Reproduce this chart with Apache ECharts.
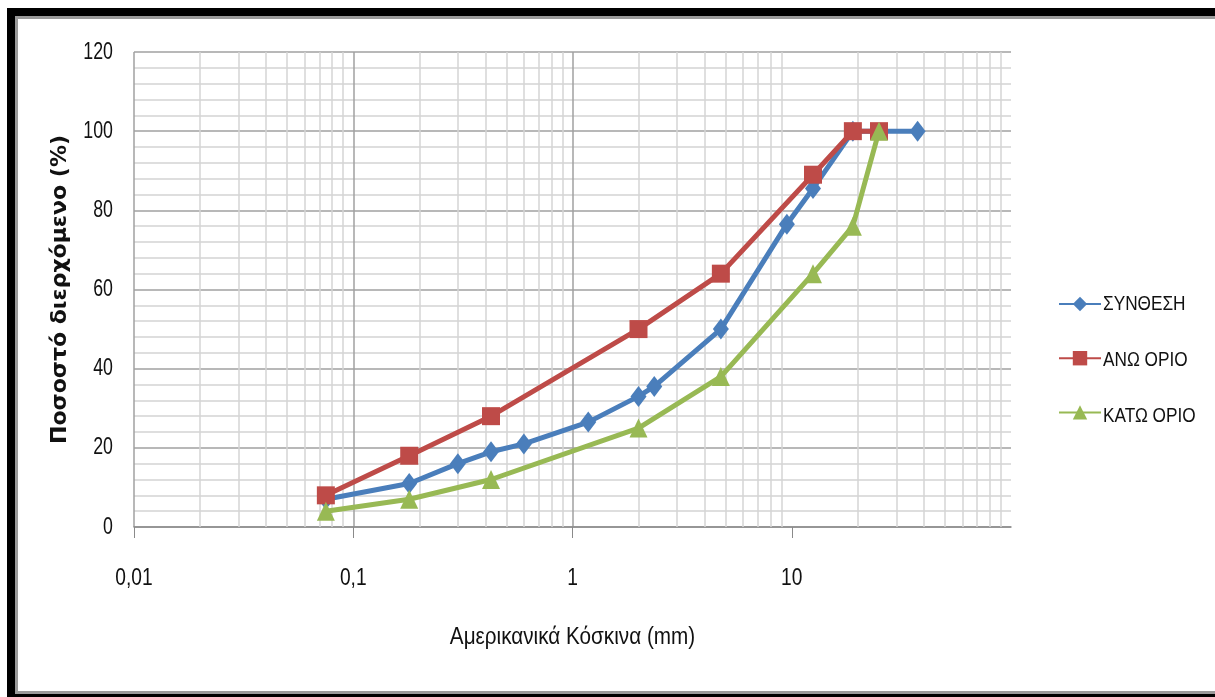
<!DOCTYPE html>
<html>
<head>
<meta charset="utf-8">
<title>Κοκκομετρική καμπύλη</title>
<script src="https://cdn.jsdelivr.net/npm/echarts@6/dist/echarts.min.js"></script>
<style>
  html, body { margin: 0; padding: 0; background: #ffffff; }
  #chart { width: 1215px; height: 697px; }
</style>
</head>
<body>
<div id="chart"></div>
<script>
// Sieve openings (mm) and percent passing for each curve
const sievesMix = [0.075, 0.18, 0.3, 0.425, 0.6, 1.18, 2, 2.36, 4.75, 9.5, 12.5, 19, 37.5];
const passMix   = [7, 11, 16, 19, 21, 26.5, 33, 35.5, 50, 76.5, 85.5, 100, 100];

const sievesLimits = [0.075, 0.18, 0.425, 2, 4.75, 12.5, 19, 25];
const passUpper    = [8, 18, 28, 50, 64, 89, 100, 100];
const passLower    = [4, 7, 12, 25, 38, 64, 76, 100];

const seriesNames = ['ΣΥΝΘΕΣΗ', 'ΑΝΩ ΟΡΙΟ', 'ΚΑΤΩ ΟΡΙΟ'];

// Tick labels
const xTicks = [0.01, 0.1, 1, 10];
const xTickLabels = ['0,01', '0,1', '1', '10'];
const yTicks = [0, 20, 40, 60, 80, 100, 120];

const xTitle = 'Αμερικανικά Κόσκινα (mm)';
const yTitle = 'Ποσοστό διερχόμενο (%)';

// Intermediate log grid lines (2..9 within each decade)
const minorGridValues = [];
[0.01, 0.1, 1, 10].forEach(function (d) {
  for (let k = 2; k <= 9; k++) minorGridValues.push(+(d * k).toPrecision(3));
});

const sans = '"Liberation Sans", Arial, sans-serif';

// Legend layout
const legendTop = 290;
const legendItemH = 18;
const legendGap = 38;
const legendLeft = 1053;
const legendIconW = 42;

function pairs(xs, ys) { return xs.map(function (x, i) { return [x, ys[i]]; }); }

const chart = echarts.init(document.getElementById('chart'), null, { renderer: 'canvas' });

chart.setOption({
  backgroundColor: '#ffffff',
  animation: false,
  grid: { left: 134, right: 204, top: 52, bottom: 170, containLabel: false },
  legend: {
    orient: 'vertical',
    left: legendLeft,
    top: legendTop,
    itemWidth: legendIconW,
    itemHeight: legendItemH,
    itemGap: legendGap,
    formatter: function () { return ''; },
    textStyle: { fontFamily: sans, fontSize: 12, color: '#111' },
    data: seriesNames
  },
  xAxis: {
    type: 'log',
    logBase: 10,
    min: 0.01,
    max: 100,
    splitNumber: 4,
    axisLine: { show: true, lineStyle: { color: '#8a8a8a', width: 1.5 } },
    axisTick: { show: true, length: 11, inside: false, customValues: xTicks, lineStyle: { color: '#8a8a8a', width: 1 } },
    axisLabel: { show: false },
    splitLine: {
      show: true,
      showMaxLine: false,
      lineStyle: { color: '#a0a0a0', width: 1.5 }
    }
  },
  yAxis: {
    type: 'value',
    min: 0,
    max: 120,
    interval: 20,
    name: yTitle,
    nameLocation: 'middle',
    nameGap: 63,
    nameTextStyle: { fontFamily: '"DejaVu Sans", sans-serif', fontWeight: 'bold', fontSize: 22, color: '#111' },
    axisLine: { show: false },
    axisTick: { show: false },
    axisLabel: { show: false },
    splitLine: { show: true, lineStyle: { color: '#a0a0a0', width: 1.5 } },
    minorTick: { show: false, splitNumber: 5 },
    minorSplitLine: { show: true, lineStyle: { color: '#d4d4d4', width: 1.5 } }
  },
  series: [
    {
      name: '__grid',
      type: 'line',
      data: [],
      silent: true,
      legendHoverLink: false,
      markLine: {
        silent: true,
        symbol: ['none', 'none'],
        z: 1,
        label: { show: false },
        lineStyle: { color: '#d4d4d4', width: 1.5, type: 'solid' },
        emphasis: { disabled: true },
        data: minorGridValues.map(function (v) { return { xAxis: v }; })
      }
    },
    {
      name: seriesNames[0],
      type: 'line',
      data: pairs(sievesMix, passMix),
      symbol: 'diamond',
      symbolSize: [16, 21],
      lineStyle: { color: '#4a7ebb', width: 5 },
      itemStyle: { color: '#4a7ebb' },
      z: 3
    },
    {
      name: seriesNames[1],
      type: 'line',
      data: pairs(sievesLimits, passUpper),
      symbol: 'rect',
      symbolSize: 18,
      lineStyle: { color: '#be4b48', width: 5 },
      itemStyle: { color: '#be4b48' },
      z: 4
    },
    {
      name: seriesNames[2],
      type: 'line',
      data: pairs(sievesLimits, passLower),
      symbol: 'triangle',
      symbolSize: [18, 19],
      lineStyle: { color: '#98b954', width: 5 },
      itemStyle: { color: '#98b954' },
      z: 5
    }
  ]
});

// Condensed labels, placed from the axes' own scales and the legend layout
function condensedText(x, y, text, size, align, scaleX) {
  return {
    type: 'text',
    x: x,
    y: y,
    scaleX: scaleX,
    silent: true,
    z: 10,
    style: {
      text: text,
      fontFamily: sans,
      fontSize: size,
      fill: '#111',
      align: align,
      textAlign: align,
      verticalAlign: 'middle',
      textVerticalAlign: 'middle'
    }
  };
}

const grid = chart.getModel().getComponent('grid').coordinateSystem.getRect();
const graphics = [
  // window-style frame
  { type: 'rect', shape: { x: 7, y: 8, width: 1208, height: 8 }, style: { fill: '#000' }, silent: true },
  { type: 'rect', shape: { x: 15, y: 16, width: 1200, height: 3 }, style: { fill: '#9a9a9a' }, silent: true },
  { type: 'rect', shape: { x: 7, y: 8, width: 8, height: 689 }, style: { fill: '#000' }, silent: true },
  { type: 'rect', shape: { x: 15, y: 16, width: 3, height: 676 }, style: { fill: '#9a9a9a' }, silent: true },
  { type: 'rect', shape: { x: 15, y: 691, width: 1200, height: 3 }, style: { fill: '#9a9a9a' }, silent: true },
  { type: 'rect', shape: { x: 7, y: 694, width: 1208, height: 3 }, style: { fill: '#000' }, silent: true }
];

yTicks.forEach(function (v) {
  const py = chart.convertToPixel({ yAxisIndex: 0 }, v);
  graphics.push(condensedText(grid.x - 21, py, String(v), 24, 'right', 0.74));
});

const axisBottom = grid.y + grid.height;
xTicks.forEach(function (v, i) {
  const px = chart.convertToPixel({ xAxisIndex: 0 }, v);
  graphics.push(condensedText(px, axisBottom + 51, xTickLabels[i], 24, 'center', 0.8));
});

graphics.push(condensedText(grid.x + grid.width / 2, axisBottom + 111, xTitle, 23, 'center', 0.9));

// legend item texts (legend box has 5px padding)
seriesNames.forEach(function (name, i) {
  const cy = legendTop + 5 + i * (legendItemH + legendGap) + legendItemH / 2;
  graphics.push(condensedText(legendLeft + 5 + legendIconW + 3, cy, name, 21, 'left', 0.82));
});

chart.setOption({ graphic: graphics });
</script>
</body>
</html>
